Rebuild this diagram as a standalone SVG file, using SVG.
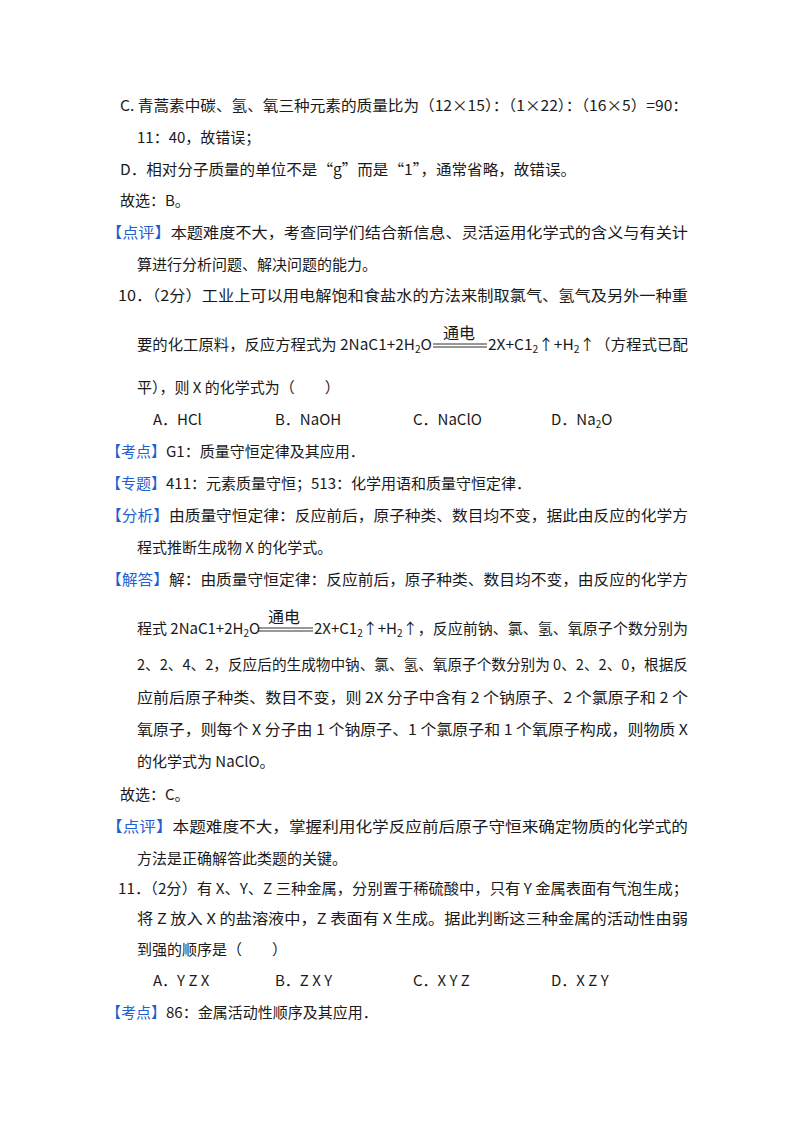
<svg xmlns="http://www.w3.org/2000/svg" width="800" height="1132" viewBox="0 0 800 1132">
<style>
text{font-family:"Noto Sans CJK SC","Noto Sans",sans-serif;font-size:15px;fill:#1a1a1a}
.b{fill:#1f5fd0}
.s{font-size:10px}
.t{font-size:16px}
line{stroke:#1a1a1a;stroke-width:0.9}
</style>
<rect width="800" height="1132" fill="#fff"/>
<g id="text">
<text x="120" y="111" textLength="568" lengthAdjust="spacingAndGlyphs">C. 青蒿素中碳、氢、氧三种元素的质量比为（12×15）：（1×22）：（16×5）=90：</text>
<text x="137" y="143">11：40，故错误；</text>
<text x="120" y="175" textLength="456" lengthAdjust="spacingAndGlyphs">D．相对分子质量的单位不是“g”而是“1”，通常省略，故错误。</text>
<text x="120" y="206">故选：B。</text>
<text x="106" y="238" textLength="582" lengthAdjust="spacingAndGlyphs"><tspan class="b">【点评】</tspan>本题难度不大，考查同学们结合新信息、灵活运用化学式的含义与有关计</text>
<text x="137" y="270">算进行分析问题、解决问题的能力。</text>
<text x="118" y="301" textLength="570" lengthAdjust="spacingAndGlyphs">10．（2分）工业上可以用电解饱和食盐水的方法来制取氯气、氢气及另外一种重</text>
<text x="137" y="350" textLength="295" lengthAdjust="spacingAndGlyphs">要的化工原料，反应方程式为 2NaC1+2H<tspan class="s" dy="3">2</tspan><tspan dy="-3">O</tspan></text>
<text class="t" x="443" y="339">通电</text>
<line x1="433" y1="344" x2="487" y2="344"/><line x1="433" y1="347" x2="487" y2="347"/>
<text x="488" y="350" textLength="200" lengthAdjust="spacingAndGlyphs">2X+C1<tspan class="s" dy="3">2</tspan><tspan dy="-3">↑+H</tspan><tspan class="s" dy="3">2</tspan><tspan dy="-3">↑（方程式已配</tspan></text>
<text x="137" y="393">平），则 X 的化学式为（　　）</text>
<text x="153" y="425">A．HCl</text>
<text x="275" y="425">B．NaOH</text>
<text x="413" y="425">C．NaClO</text>
<text x="551" y="425">D．Na<tspan class="s" dy="3">2</tspan><tspan dy="-3">O</tspan></text>
<text x="106" y="457"><tspan class="b">【考点】</tspan>G1：质量守恒定律及其应用．</text>
<text x="106" y="489"><tspan class="b">【专题】</tspan>411：元素质量守恒；513：化学用语和质量守恒定律．</text>
<text x="106" y="521" textLength="582" lengthAdjust="spacingAndGlyphs"><tspan class="b">【分析】</tspan>由质量守恒定律：反应前后，原子种类、数目均不变，据此由反应的化学方</text>
<text x="137" y="553">程式推断生成物 X 的化学式。</text>
<text x="106" y="585" textLength="582" lengthAdjust="spacingAndGlyphs"><tspan class="b">【解答】</tspan>解：由质量守恒定律：反应前后，原子种类、数目均不变，由反应的化学方</text>
<text x="137" y="634">程式 2NaC1+2H<tspan class="s" dy="3">2</tspan><tspan dy="-3">O</tspan></text>
<text class="t" x="268" y="623">通电</text>
<line x1="258" y1="628" x2="313" y2="628"/><line x1="258" y1="631" x2="313" y2="631"/>
<text x="314" y="634" textLength="374" lengthAdjust="spacingAndGlyphs">2X+C1<tspan class="s" dy="3">2</tspan><tspan dy="-3">↑+H</tspan><tspan class="s" dy="3">2</tspan><tspan dy="-3">↑，反应前钠、氯、氢、氧原子个数分别为</tspan></text>
<text x="137" y="670" textLength="551" lengthAdjust="spacingAndGlyphs">2、2、4、2，反应后的生成物中钠、氯、氢、氧原子个数分别为 0、2、2、0，根据反</text>
<text x="137" y="703" textLength="551" lengthAdjust="spacingAndGlyphs">应前后原子种类、数目不变，则 2X 分子中含有 2 个钠原子、2 个氯原子和 2 个</text>
<text x="137" y="735" textLength="551" lengthAdjust="spacingAndGlyphs">氧原子，则每个 X 分子由 1 个钠原子、1 个氯原子和 1 个氧原子构成，则物质 X</text>
<text x="137" y="767">的化学式为 NaClO。</text>
<text x="120" y="800">故选：C。</text>
<text x="106" y="832" textLength="582" lengthAdjust="spacingAndGlyphs"><tspan class="b">【点评】</tspan>本题难度不大，掌握利用化学反应前后原子守恒来确定物质的化学式的</text>
<text x="137" y="864">方法是正确解答此类题的关键。</text>
<text x="118" y="894" textLength="570" lengthAdjust="spacingAndGlyphs">11．（2分）有 X、Y、Z 三种金属，分别置于稀硫酸中，只有 Y 金属表面有气泡生成；</text>
<text x="137" y="924" textLength="551" lengthAdjust="spacingAndGlyphs">将 Z 放入 X 的盐溶液中，Z 表面有 X 生成。据此判断这三种金属的活动性由弱</text>
<text x="137" y="955">到强的顺序是（　　）</text>
<text x="153" y="986">A．Y Z X</text>
<text x="275" y="986">B．Z X Y</text>
<text x="413" y="986">C．X Y Z</text>
<text x="551" y="986">D．X Z Y</text>
<text x="106" y="1018"><tspan class="b">【考点】</tspan>86：金属活动性顺序及其应用．</text>
</g>
</svg>
